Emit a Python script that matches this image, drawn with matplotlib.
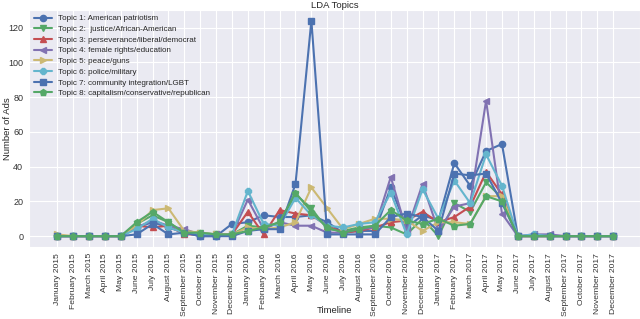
import numpy as np
import matplotlib
matplotlib.use("Agg")
import matplotlib.pyplot as plt
import seaborn as sns

months = ["January", "February", "March", "April", "May", "June", "July",
          "August", "September", "October", "November", "December"]
timeline = ["%s %d" % (m, y) for y in (2015, 2016, 2017) for m in months]

topic_names = [
    "Topic 1: American patriotism",
    "Topic 2:  justice/African-American",
    "Topic 3: perseverance/liberal/democrat",
    "Topic 4: female rights/education",
    "Topic 5: peace/guns",
    "Topic 6: police/military",
    "Topic 7: community integration/LGBT",
    "Topic 8: capitalism/conservative/republican",
]

topic1 = [0, 0, 0, 0, 0, 5, 8, 5, 2, 0, 0, 7, 8, 12, 11, 11, 12, 8,
          2, 3, 3, 28, 5, 12, 9, 42, 29, 49, 53, 0, 0, 0, 0, 0, 0, 0]
topic2 = [0, 0, 0, 0, 0, 7, 12, 8, 2, 2, 1, 1, 6, 5, 8, 24, 16, 4,
          3, 5, 6, 5, 1, 10, 0, 19, 14, 31, 22, 0, 0, 0, 0, 0, 0, 0]
topic3 = [0, 0, 0, 0, 0, 6, 5, 6, 1, 1, 1, 1, 14, 1, 15, 13, 12, 6,
          2, 3, 5, 8, 9, 14, 8, 11, 17, 37, 24, 0, 0, 0, 0, 0, 0, 0]
topic4 = [0, 0, 0, 0, 0, 5, 9, 6, 4, 1, 1, 1, 21, 4, 8, 6, 6, 2,
          2, 4, 5, 34, 3, 30, 3, 17, 19, 78, 13, 0, 1, 1, 0, 0, 0, 0]
topic5 = [1, 0, 0, 0, 0, 6, 15, 16, 3, 2, 1, 1, 5, 4, 5, 8, 28, 16,
          4, 7, 10, 10, 9, 3, 8, 8, 7, 23, 23, 0, 0, 0, 0, 0, 0, 0]
topic6 = [0, 0, 0, 0, 0, 4, 10, 5, 2, 1, 0, 1, 26, 7, 6, 22, 12, 6,
          5, 7, 8, 25, 1, 27, 10, 32, 19, 47, 29, 0, 1, 0, 0, 0, 0, 0]
topic7 = [0, 0, 0, 0, 0, 1, 7, 1, 2, 0, 0, 0, 3, 4, 4, 30, 124, 1,
          1, 1, 1, 11, 13, 11, 3, 36, 35, 36, 19, 0, 0, 0, 0, 0, 0, 0]
topic8 = [0, 0, 0, 0, 0, 8, 14, 8, 2, 2, 1, 1, 3, 5, 8, 25, 14, 5,
          2, 4, 6, 15, 9, 7, 10, 6, 7, 23, 20, 0, 0, 0, 0, 0, 0, 0]
topics = [topic1, topic2, topic3, topic4, topic5, topic6, topic7, topic8]

sns.set_style("darkgrid")
plt.rcParams["font.family"] = ["Liberation Sans", "DejaVu Sans"]

# old seaborn "deep" palette, six colours cycling
colors = ["#4C72B0", "#55A868", "#C44E52", "#8172B2", "#CCB974", "#64B5CD",
          "#4C72B0", "#55A868"]
markers = ["o", "v", "^", "<", ">", "8", "s", "p"]

fig, ax = plt.subplots(figsize=(6.4, 3.19), dpi=100)
plt.subplots_adjust(left=0.046, right=1.0, top=0.969, bottom=0.226)

x = np.arange(len(timeline))
for name, vals, c, m in zip(topic_names, topics, colors, markers):
    ax.plot(x, vals, color=c, marker=m, ms=4.5, lw=1.5, label=name)

ax.set_xticks(x)
ax.set_xticklabels(timeline, rotation=90, fontsize=6.1)
ax.tick_params(axis="both", colors="#333333", length=3, width=0.8, pad=1.5)
ax.tick_params(axis="y", labelsize=6.5)
ax.set_xlim(-1.75, 36.69)
ax.set_ylim(-6.2, 130.2)
ax.set_yticks([0, 20, 40, 60, 80, 100, 120])
ax.set_title("LDA Topics", fontsize=6.8, pad=1.5)
ax.set_xlabel("Timeline", fontsize=6.8)
ax.set_ylabel("Number of Ads", fontsize=6.8)
ax.xaxis.set_label_coords(0.5, -0.248)
ax.yaxis.set_label_coords(-0.029, 0.5)
ax.legend(loc="upper left", fontsize=5.8, frameon=False, handlelength=2.2,
          handletextpad=0.75, labelspacing=0.38, borderaxespad=0.3,
          borderpad=0.3)

plt.savefig("out.png", dpi=100)
